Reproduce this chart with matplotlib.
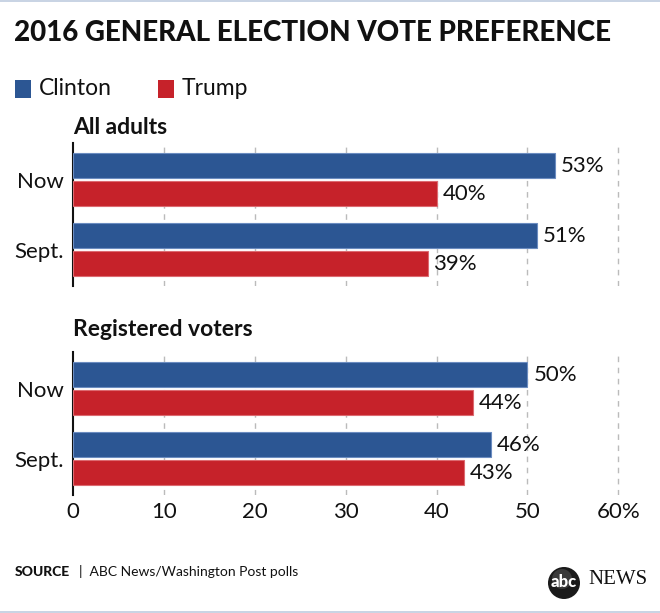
import numpy as np
import matplotlib
matplotlib.use('Agg')
import matplotlib.pyplot as plt
from matplotlib.patches import Circle, Rectangle

plt.rcParams['font.family'] = ['Lato', 'DejaVu Sans']

# ---- data ----
periods = ['Now', 'Sept.']
panels = ['All adults', 'Registered voters']
clinton = [[53, 51], [50, 46]]
trump = [[40, 39], [44, 43]]
x_ticks = [0, 10, 20, 30, 40, 50, 60]
x_ticklabels = ['0', '10', '20', '30', '40', '50', '60%']

BLUE = '#2C5693'
BLUE_EDGE = '#6B8CC0'
RED = '#C6222A'
RED_EDGE = '#DC6A70'
W, H = 660, 613

fig = plt.figure(figsize=(W / 100, H / 100), dpi=100, facecolor='white')

# overlay in pixel coordinates (origin top-left)
bg = fig.add_axes([0, 0, 1, 1])
bg.set_xlim(0, W)
bg.set_ylim(H, 0)
bg.axis('off')


def px_axes(left, top, right, bottom):
    return fig.add_axes([left / W, 1 - bottom / H, (right - left) / W, (bottom - top) / H])


# ===== frame lines =====
bg.add_patch(Rectangle((0, 0), W, 1.5, color='#C9D4E4', lw=0))
bg.add_patch(Rectangle((0, 610.5), W, 2.5, color='#C9D4E4', lw=0))

# ===== title + legend =====
bg.text(14, 33, '2016 GENERAL ELECTION VOTE PREFERENCE', ha='left', va='center',
        fontsize=20, fontweight='black', color='#111111')
for name, color, x0 in [('Clinton', BLUE, 15), ('Trump', RED, 158)]:
    bg.add_patch(Rectangle((x0, 80), 16, 18, color=color, lw=0))
    bg.text(x0 + 24, 88.5, name, ha='left', va='center', fontsize=16.5, color='#111111')

# ===== panels =====
xscale = 9.083
x_left = 73.3
xmax = 60.6
tops = [143.3, 352.3]
bottoms = [286.3, 495.3]
spacing = 70.0
off = 14.0 / spacing
bh = 25.0 / spacing

for k in range(len(panels)):
    top, bottom = tops[k], bottoms[k]
    ax = px_axes(x_left, top, x_left + xmax * xscale, bottom)
    y = np.arange(len(periods))
    ax.barh(y - off, clinton[k], height=bh, color=BLUE, edgecolor=BLUE_EDGE, linewidth=0.8, zorder=3)
    ax.barh(y + off, trump[k], height=bh, color=RED, edgecolor=RED_EDGE, linewidth=0.8, zorder=3)
    for yi, v in zip(y - off, clinton[k]):
        ax.text(v + 0.65, yi, f'{v}%', ha='left', va='center', fontsize=16, color='#111111')
    for yi, v in zip(y + off, trump[k]):
        ax.text(v + 0.65, yi, f'{v}%', ha='left', va='center', fontsize=16, color='#111111')
    lo = -(36.5 / spacing)
    hi = 1 + 36.5 / spacing
    ax.set_ylim(hi, lo)
    ax.set_xlim(0, xmax)
    for xt in x_ticks[1:]:
        ax.axvline(xt, color='#BBBBBB', lw=1, ls=(0, (4, 4)), zorder=1)
    for s in ['top', 'right', 'bottom']:
        ax.spines[s].set_visible(False)
    ax.spines['left'].set_linewidth(1.5)
    ax.spines['left'].set_color('#111111')
    ax.set_yticks(y)
    ax.set_yticklabels(periods, fontsize=16, color='#111111')
    ax.tick_params(axis='y', length=0, pad=7)
    if k == len(panels) - 1:
        ax.set_xticks(x_ticks)
        ax.set_xticklabels(x_ticklabels, fontsize=16, color='#111111')
        ax.tick_params(axis='x', length=0, pad=5)
    else:
        ax.set_xticks([])
    ax.patch.set_alpha(0)

bg.text(73, 128, panels[0], ha='left', va='center', fontsize=16.5, fontweight='bold', color='#111111')
bg.text(73, 330, panels[1], ha='left', va='center', fontsize=16.5, fontweight='bold', color='#111111')

# ===== source =====
bg.text(15, 572, 'SOURCE', ha='left', va='center', fontsize=10, fontweight='black', color='#111111')
bg.text(79, 572, '|  ABC News/Washington Post polls', ha='left', va='center', fontsize=10, color='#111111')

# ===== logo =====
bg.add_patch(Circle((564, 583), 16, color='#1A1A1A', lw=0))
bg.add_patch(Circle((562, 579), 10, color='#5A5A5A', lw=0, alpha=0.5))
bg.text(564, 582, 'abc', ha='center', va='center', fontsize=12, fontweight='black', color='white')
bg.text(588, 580, 'NEWS', ha='left', va='center', fontsize=15, family='Liberation Serif', color='#111111')

fig.savefig('out.png', dpi=100, facecolor='white')
